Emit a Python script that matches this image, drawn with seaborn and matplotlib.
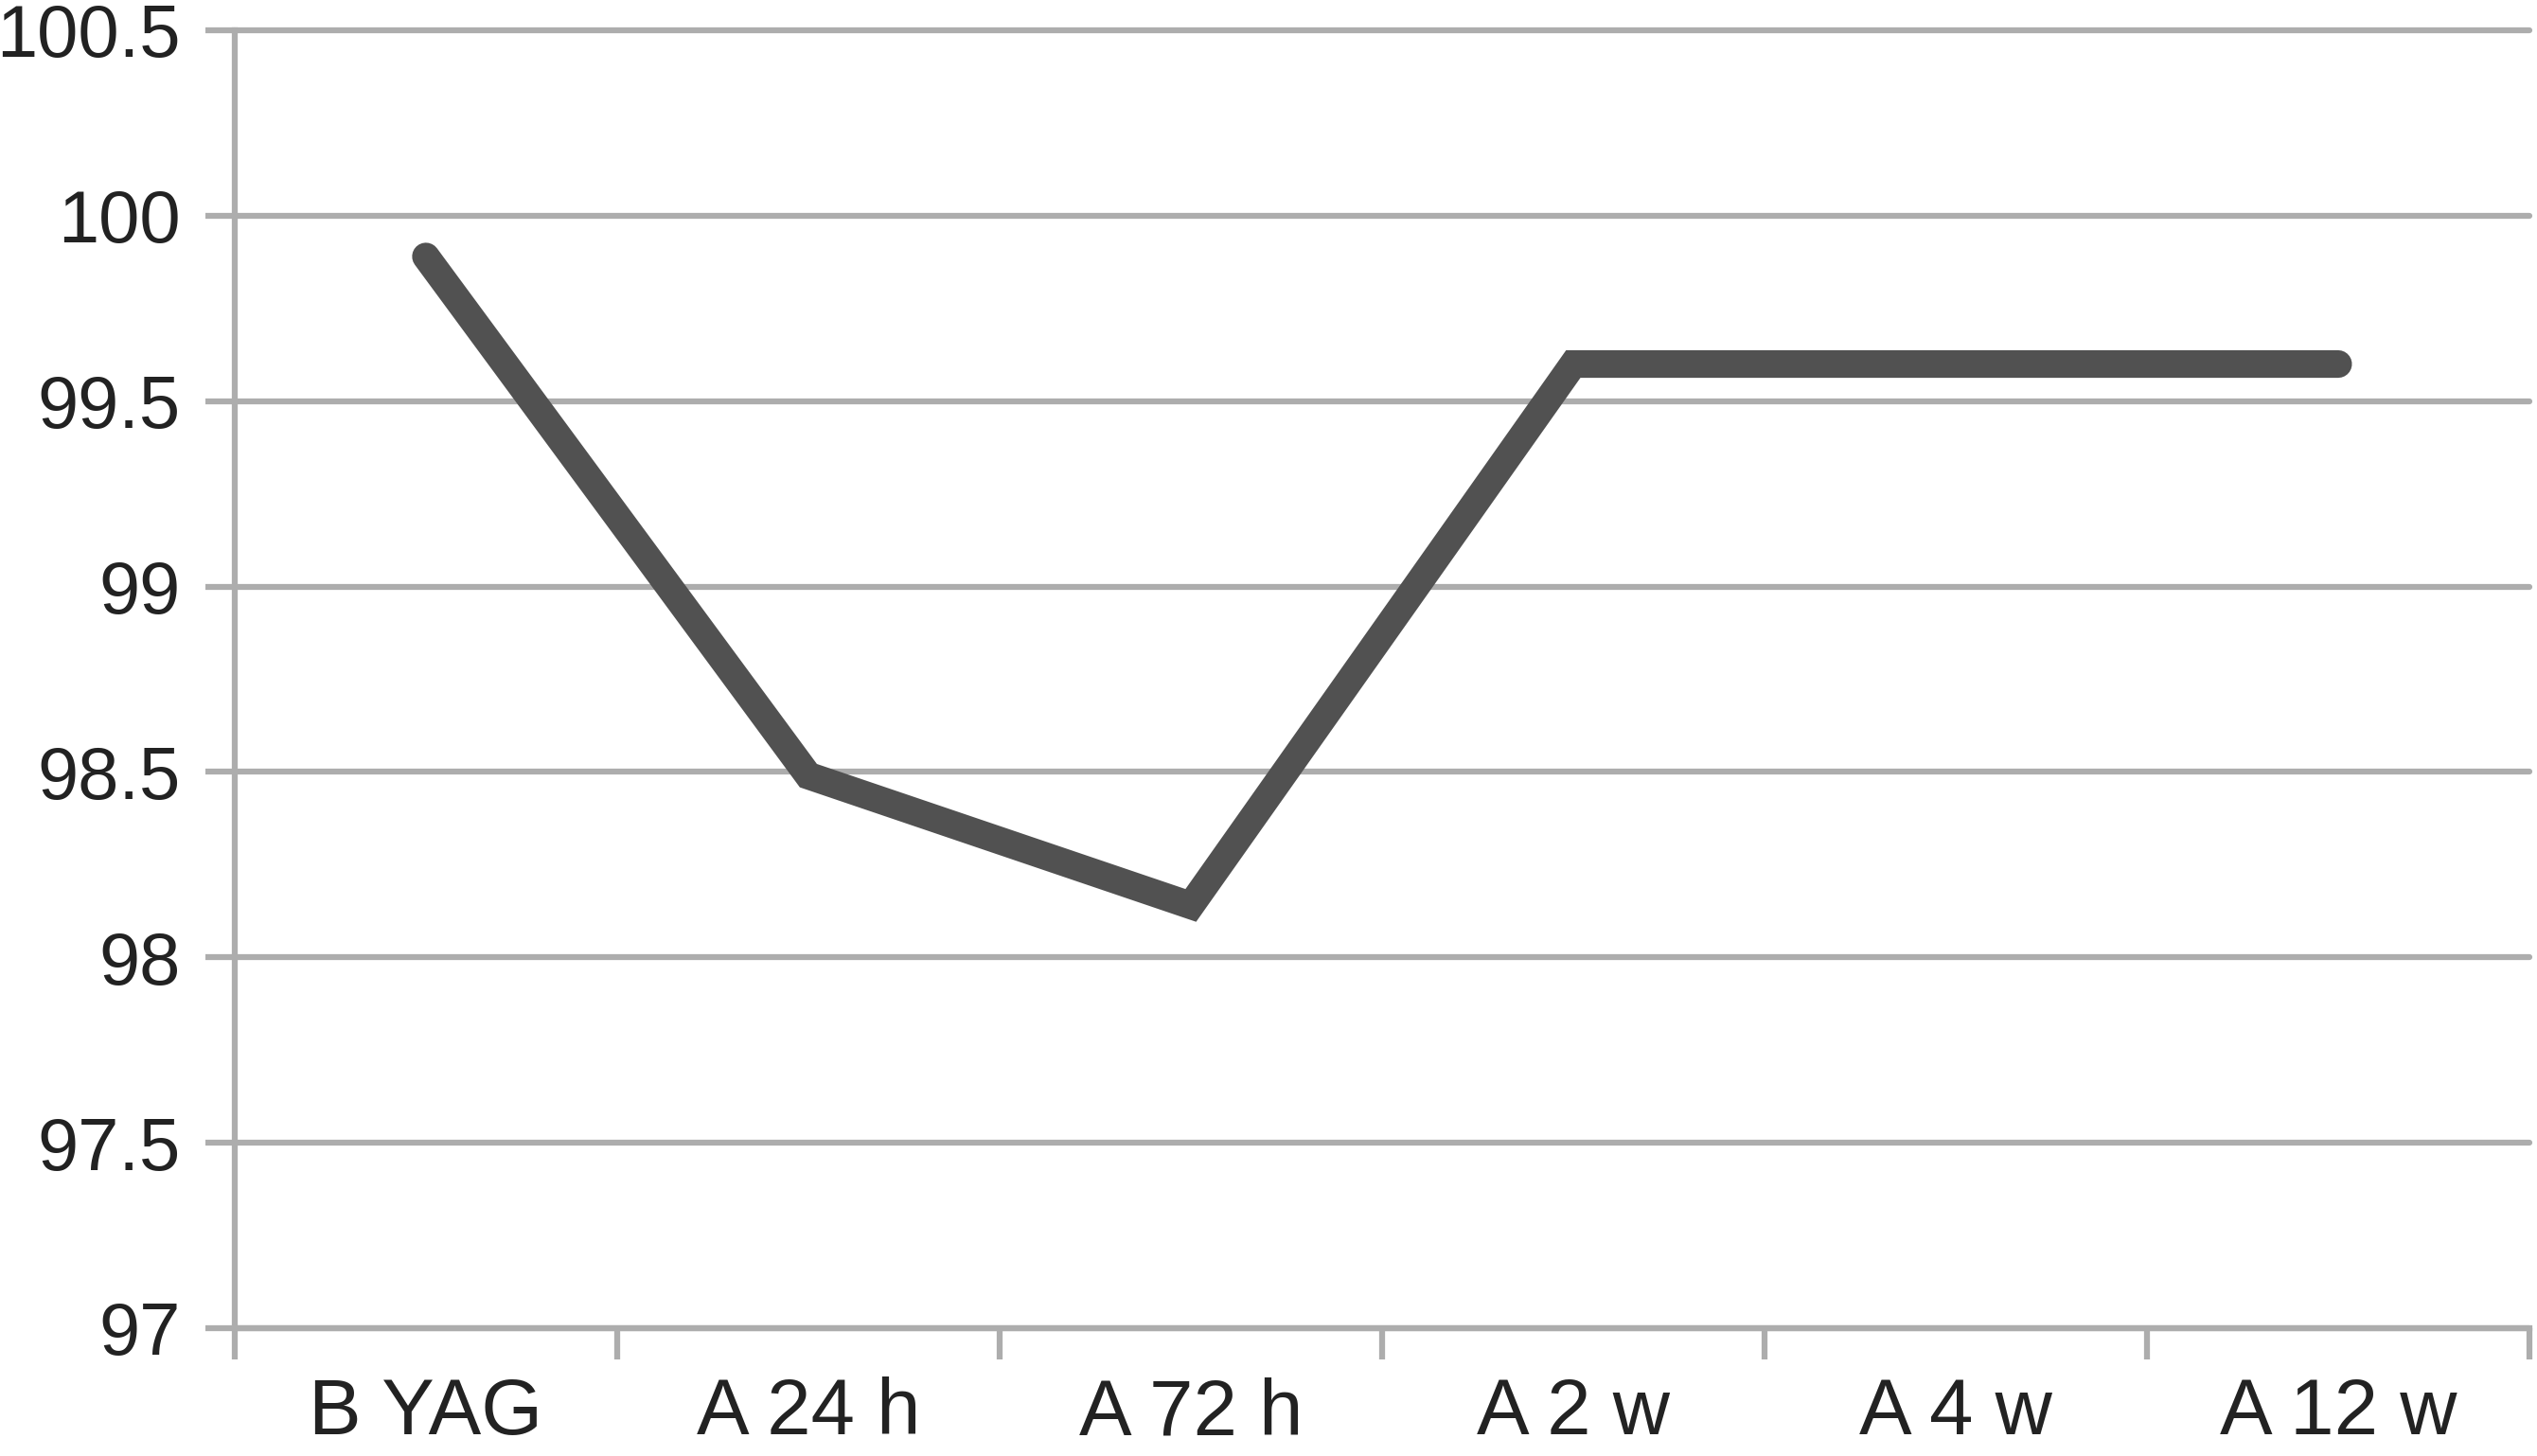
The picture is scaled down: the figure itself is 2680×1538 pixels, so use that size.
import numpy as np
import pandas as pd
import seaborn as sns
import matplotlib.pyplot as plt

# values
categories = ["B YAG", "A 24 h", "A 72 h", "A 2 w", "A 4 w", "A 12 w"]
values = [99.89, 98.49, 98.14, 99.6, 99.6, 99.6]
y_ticks = [97, 97.5, 98, 98.5, 99, 99.5, 100, 100.5]
y_tick_labels = ["97", "97.5", "98", "98.5", "99", "99.5", "100", "100.5"]

df = pd.DataFrame({"pos": np.arange(len(categories)), "value": values})

sns.set_style("white")
plt.rcParams['font.family'] = ['Liberation Sans', 'DejaVu Sans']

grid_col = "#adadad"
fig = plt.figure(figsize=(26.8, 15.38), dpi=100)
ax = fig.add_axes([0.0925, 0.0878, 0.997 - 0.0925, 0.9792 - 0.0878])

sns.lineplot(data=df, x="pos", y="value", sort=False, color="#515151",
             linewidth=21, ax=ax, solid_capstyle="round",
             solid_joinstyle="miter", zorder=5)

ax.set_xlim(-0.5, len(categories) - 0.5)
ax.set_ylim(97, 100.5)

# y axis
ax.set_yticks(y_ticks)
ax.set_yticklabels(y_tick_labels)
ax.tick_params(axis="y", left=True, length=22, width=4.5, color=grid_col,
               direction="out", pad=19, labelsize=56, labelcolor="#222222")
ax.grid(axis="y", color=grid_col, linewidth=4.5)
for gl in ax.get_ygridlines():
    gl.set_clip_on(False)
ax.grid(axis="x", visible=False)

# x axis: ticks between categories, labels centred
ax.set_xticks(np.arange(len(categories) + 1) - 0.5)
ax.set_xticklabels([])
ax.set_xticks(np.arange(len(categories)), minor=True)
ax.set_xticklabels(categories, minor=True)
ax.tick_params(axis="x", which="major", bottom=True, length=24, width=4.5,
               color=grid_col, direction="out")
ax.tick_params(axis="x", which="minor", bottom=True, length=0, pad=37,
               labelsize=60, labelcolor="#222222")

ax.set_xlabel("")
ax.set_ylabel("")
for side in ["top", "right"]:
    ax.spines[side].set_visible(False)
for side in ["left", "bottom"]:
    ax.spines[side].set_color(grid_col)
    ax.spines[side].set_linewidth(4.5)

plt.savefig("out.png", dpi=100)
